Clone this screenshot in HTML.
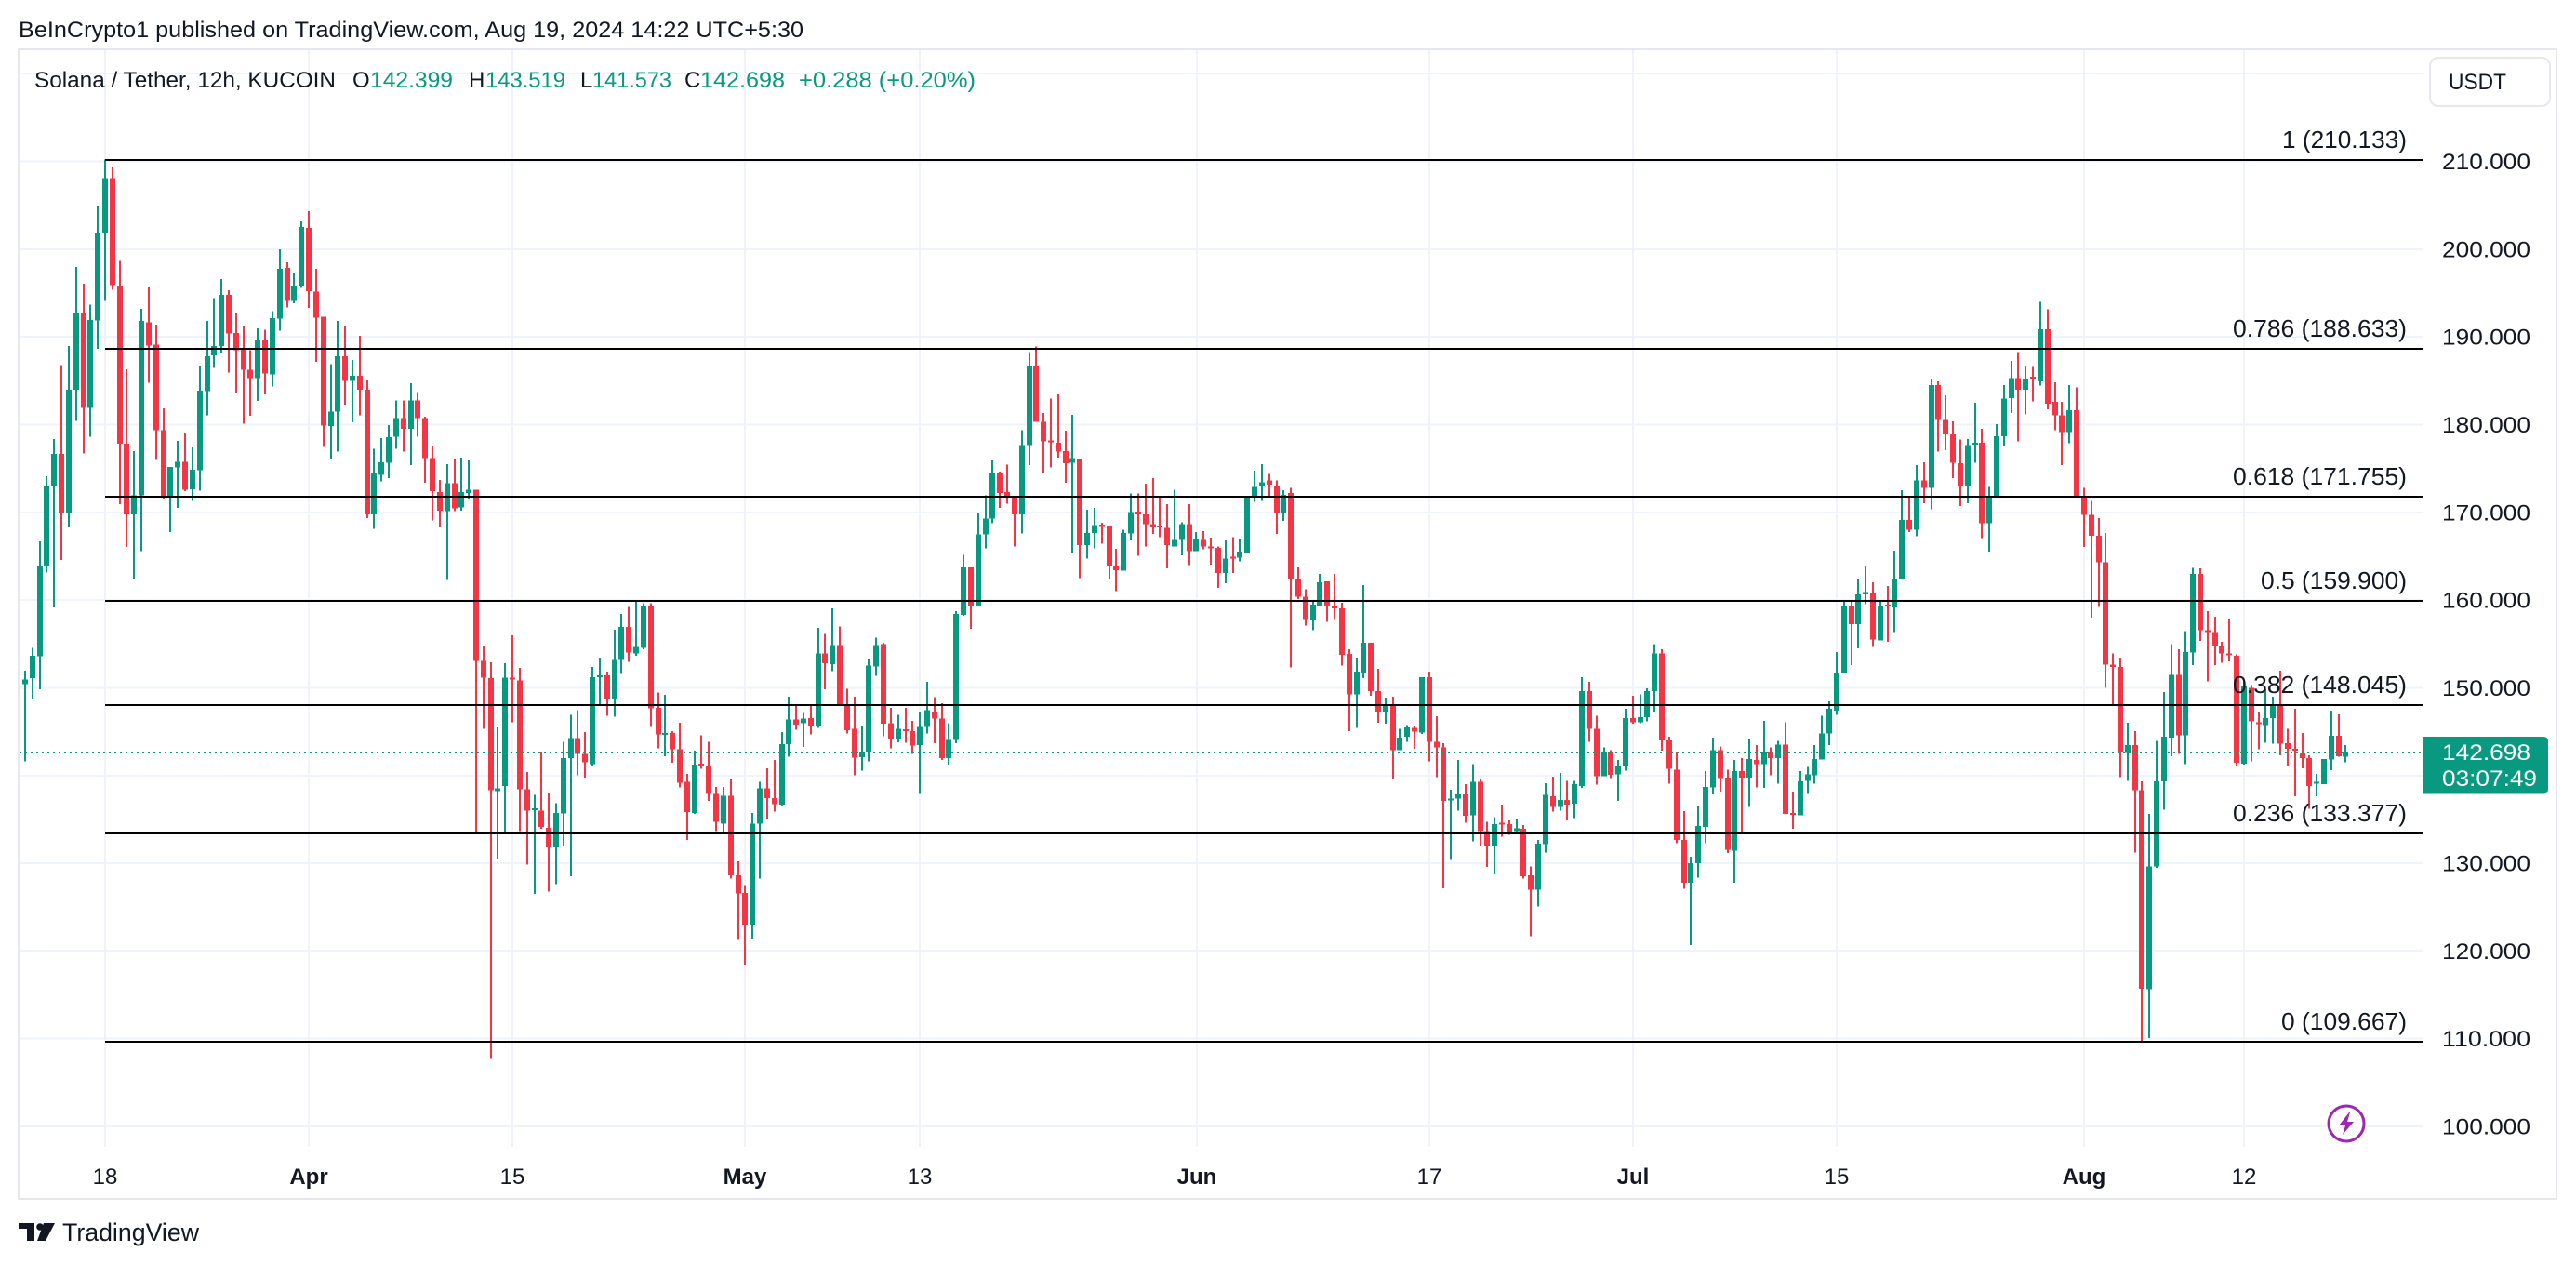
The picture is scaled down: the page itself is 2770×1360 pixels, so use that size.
<!DOCTYPE html>
<html><head><meta charset="utf-8">
<style>
html,body{margin:0;padding:0;background:#fff;}
svg{display:block}
text{font-family:"Liberation Sans",Arial,sans-serif;}
</style></head>
<body>
<svg id="c" width="2770" height="1360" viewBox="0 0 2770 1360" xmlns="http://www.w3.org/2000/svg">
<defs><clipPath id="plot"><rect x="21" y="54" width="2585" height="1179"/></clipPath></defs>
<rect width="2770" height="1360" fill="#fff"/>
<!-- grid -->
<g stroke="#f0f3fa" stroke-width="2" shape-rendering="crispEdges">
<line x1="21" x2="2606" y1="79" y2="79"/>
<line x1="21" x2="2606" y1="173.5" y2="173.5"/>
<line x1="21" x2="2606" y1="268" y2="268"/>
<line x1="21" x2="2606" y1="362" y2="362"/>
<line x1="21" x2="2606" y1="456.5" y2="456.5"/>
<line x1="21" x2="2606" y1="551" y2="551"/>
<line x1="21" x2="2606" y1="645" y2="645"/>
<line x1="21" x2="2606" y1="739.5" y2="739.5"/>
<line x1="21" x2="2606" y1="834" y2="834"/>
<line x1="21" x2="2606" y1="928" y2="928"/>
<line x1="21" x2="2606" y1="1022" y2="1022"/>
<line x1="21" x2="2606" y1="1116.5" y2="1116.5"/>
<line x1="21" x2="2606" y1="1211" y2="1211"/>
<line x1="113" x2="113" y1="54" y2="1233"/>
<line x1="332" x2="332" y1="54" y2="1233"/>
<line x1="551" x2="551" y1="54" y2="1233"/>
<line x1="801" x2="801" y1="54" y2="1233"/>
<line x1="989" x2="989" y1="54" y2="1233"/>
<line x1="1287" x2="1287" y1="54" y2="1233"/>
<line x1="1537" x2="1537" y1="54" y2="1233"/>
<line x1="1756" x2="1756" y1="54" y2="1233"/>
<line x1="1975" x2="1975" y1="54" y2="1233"/>
<line x1="2241" x2="2241" y1="54" y2="1233"/>
<line x1="2413" x2="2413" y1="54" y2="1233"/>
</g>
<!-- frame -->
<rect x="20" y="53" width="2729" height="1236" fill="none" stroke="#e6e8ee" stroke-width="2"/>
<!-- candles -->
<g id="cd" clip-path="url(#plot)" shape-rendering="crispEdges"></g>
<!-- fib lines -->
<g stroke="#000" stroke-width="2" shape-rendering="crispEdges">
<line x1="113" x2="2606" y1="172" y2="172"/>
<line x1="113" x2="2606" y1="375" y2="375"/>
<line x1="113" x2="2606" y1="534" y2="534"/>
<line x1="113" x2="2606" y1="646" y2="646"/>
<line x1="113" x2="2606" y1="758" y2="758"/>
<line x1="113" x2="2606" y1="896" y2="896"/>
<line x1="113" x2="2606" y1="1120" y2="1120"/>
</g>
<!-- current price dotted line -->
<line x1="21" x2="2606" y1="809" y2="809" stroke="#089981" stroke-width="2" stroke-dasharray="2,4"/>
<!-- fib labels -->
<g font-size="26" fill="#131722" text-anchor="end">
<text x="2588" y="159" textLength="134" lengthAdjust="spacingAndGlyphs">1 (210.133)</text>
<text x="2588" y="362" textLength="187" lengthAdjust="spacingAndGlyphs">0.786 (188.633)</text>
<text x="2588" y="521" textLength="187" lengthAdjust="spacingAndGlyphs">0.618 (171.755)</text>
<text x="2588" y="633" textLength="157" lengthAdjust="spacingAndGlyphs">0.5 (159.900)</text>
<text x="2588" y="745" textLength="187" lengthAdjust="spacingAndGlyphs">0.382 (148.045)</text>
<text x="2588" y="883" textLength="187" lengthAdjust="spacingAndGlyphs">0.236 (133.377)</text>
<text x="2588" y="1107" textLength="135" lengthAdjust="spacingAndGlyphs">0 (109.667)</text>
</g>
<!-- price axis -->
<g font-size="24" fill="#131722">
<text x="2626" y="182" textLength="95" lengthAdjust="spacingAndGlyphs">210.000</text>
<text x="2626" y="276.5" textLength="95" lengthAdjust="spacingAndGlyphs">200.000</text>
<text x="2626" y="370.5" textLength="95" lengthAdjust="spacingAndGlyphs">190.000</text>
<text x="2626" y="465" textLength="95" lengthAdjust="spacingAndGlyphs">180.000</text>
<text x="2626" y="559.5" textLength="95" lengthAdjust="spacingAndGlyphs">170.000</text>
<text x="2626" y="653.5" textLength="95" lengthAdjust="spacingAndGlyphs">160.000</text>
<text x="2626" y="748" textLength="95" lengthAdjust="spacingAndGlyphs">150.000</text>
<text x="2626" y="936.5" textLength="95" lengthAdjust="spacingAndGlyphs">130.000</text>
<text x="2626" y="1031" textLength="95" lengthAdjust="spacingAndGlyphs">120.000</text>
<text x="2626" y="1125" textLength="95" lengthAdjust="spacingAndGlyphs">110.000</text>
<text x="2626" y="1219.5" textLength="95" lengthAdjust="spacingAndGlyphs">100.000</text>
</g>
<!-- USDT box -->
<rect x="2613" y="62" width="129" height="52" rx="9" fill="#fff" stroke="#e6e8ee" stroke-width="2"/>
<text x="2633" y="96" font-size="24" fill="#131722" textLength="62" lengthAdjust="spacingAndGlyphs">USDT</text>
<!-- current price label -->
<path d="M2606 792 H2735 Q2740 792 2740 797 V848.5 Q2740 853.5 2735 853.5 H2606 Z" fill="#089981"/>
<text x="2626" y="817" font-size="24" fill="#fff" textLength="95" lengthAdjust="spacingAndGlyphs">142.698</text>
<text x="2626" y="845" font-size="24" fill="#fff" textLength="102" lengthAdjust="spacingAndGlyphs">03:07:49</text>
<!-- time axis -->
<g font-size="24" fill="#131722" text-anchor="middle">
<text x="113" y="1273">18</text>
<text x="332" y="1273" font-weight="bold">Apr</text>
<text x="551" y="1273">15</text>
<text x="801" y="1273" font-weight="bold">May</text>
<text x="989" y="1273">13</text>
<text x="1287" y="1273" font-weight="bold">Jun</text>
<text x="1537" y="1273">17</text>
<text x="1756" y="1273" font-weight="bold">Jul</text>
<text x="1975" y="1273">15</text>
<text x="2241" y="1273" font-weight="bold">Aug</text>
<text x="2413" y="1273">12</text>
</g>
<!-- lightning icon -->
<circle cx="2523" cy="1208" r="19" fill="#fff" stroke="#9c27b0" stroke-width="3"/>
<path d="M2526 1196 L2515 1210 L2522 1210 L2519 1220 L2531 1206 L2524 1206 L2527 1196 Z" fill="#9c27b0"/>
<!-- header -->
<text x="20" y="40" font-size="24" fill="#131722" textLength="844" lengthAdjust="spacingAndGlyphs">BeInCrypto1 published on TradingView.com, Aug 19, 2024 14:22 UTC+5:30</text>
<g font-size="24">
<text x="37" y="94" fill="#131722" textLength="324" lengthAdjust="spacingAndGlyphs">Solana / Tether, 12h, KUCOIN</text>
<text x="379" y="94" fill="#131722">O</text>
<text x="398" y="94" fill="#089981" textLength="89" lengthAdjust="spacingAndGlyphs">142.399</text>
<text x="504" y="94" fill="#131722">H</text>
<text x="522" y="94" fill="#089981" textLength="86" lengthAdjust="spacingAndGlyphs">143.519</text>
<text x="624" y="94" fill="#131722">L</text>
<text x="637" y="94" fill="#089981" textLength="85" lengthAdjust="spacingAndGlyphs">141.573</text>
<text x="736" y="94" fill="#131722">C</text>
<text x="753" y="94" fill="#089981" textLength="91" lengthAdjust="spacingAndGlyphs">142.698</text>
<text x="859" y="94" fill="#089981" textLength="190" lengthAdjust="spacingAndGlyphs">+0.288 (+0.20%)</text>
</g>
<!-- TradingView logo -->
<g fill="#131722">
<rect x="20" y="1315" width="17" height="6"/>
<rect x="29" y="1315" width="8" height="19"/>
<circle cx="43" cy="1319" r="3.8"/>
<path d="M47 1315 H59 L49 1334 H40 Z"/>
<text x="67" y="1334" font-size="27" textLength="147" lengthAdjust="spacingAndGlyphs">TradingView</text>
</g>
</svg>
<script>
var D=[
[1,918,920,940,940],[1,895,910,918,1048],[1,857,870,908,943],[1,677,720,871,927],[1,568,583,720,730],[1,505,530,584,789],
[0,380,530,629,709],[1,348,422,629,654],[1,215,293,422,474],[0,243,293,452,529],[1,278,304,452,501],[1,113,157,305,353],
[1,34,65,157,272],[0,47,65,245,253],[0,205,246,513,615],[0,387,513,632,687],[1,525,600,632,741],[1,285,306,600,694],
[0,249,308,347,410],[0,312,346,490,540],[0,453,490,603,605],[1,552,552,602,662],[1,508,543,553,621],[0,495,543,590,593],
[1,519,557,590,609],[1,381,423,557,592],[1,306,365,424,465],[1,267,348,364,385],[1,235,262,348,360],[0,254,262,327,393],
[0,293,326,355,427],[0,315,352,388,479],[0,355,388,402,466],[1,318,337,402,441],[0,321,337,394,430],[1,289,301,396,416],
[1,185,218,302,322],[0,207,216,272,283],[1,224,246,272,276],[1,138,147,247,250],[0,121,149,256,284],[0,218,256,300,375],
[0,299,299,482,518],[1,379,459,483,538],[1,306,365,459,526],[0,315,365,407,447],[1,372,398,407,477],[0,331,398,422,465],
[0,406,422,632,638],[1,521,563,632,656],[1,503,544,565,576],[1,481,502,545,571],[1,440,470,501,521],[0,440,470,488,526],
[1,411,440,488,549],[0,426,440,470,501],[0,467,470,537,579],[0,516,537,593,642],[0,574,594,626,654],[1,547,579,626,742],
[0,539,579,622,626],[1,536,594,620,626],[1,541,590,596,607],[0,590,590,879,1167],[0,853,879,907,993],[0,881,908,1097,1548],
[1,991,1094,1098,1213],
[1,883,907,1090,1170],[0,836,907,909,982],[0,891,912,1095,1166],[0,1066,1095,1131,1222],[1,1105,1127,1129,1272],
[0,1033,1131,1159,1162],[0,1102,1160,1193,1268],[1,1119,1135,1193,1255],[1,1015,1043,1136,1191],[1,970,1009,1043,1242],
[0,962,1009,1036,1072],[0,999,1036,1050,1076],[1,889,906,1053,1057],[1,873,903,906,952],[0,898,903,943,971],
[1,826,877,943,973],[1,800,822,877,901],[0,788,822,865,880],[1,776,855,866,870],[1,782,787,857,859],
[0,782,787,959,990],[0,932,958,1003,1026],[1,936,1000,1002,1040],[0,997,1000,1028,1051],[0,983,1028,1084,1092],
[0,1069,1083,1134,1181],[1,1030,1054,1135,1137],[0,1004,1052,1055,1061],[0,1015,1055,1103,1115],[0,1091,1103,1150,1166],
[1,1091,1106,1153,1169],[0,1077,1106,1240,1246],[0,1217,1240,1271,1349],[0,1258,1270,1324,1391],[1,1135,1153,1324,1347],
[1,1083,1094,1153,1246],[0,1060,1094,1110,1145],[0,1046,1110,1120,1133],[1,999,1019,1121,1123],[1,939,978,1019,1040],
[0,952,978,986,995],[1,967,976,984,1024],[0,955,975,988,1003],[1,823,866,988,992],[0,833,866,883,927],
[1,790,852,884,896],[0,821,852,954,955],[0,926,954,996,1001],[0,939,993,1042,1072],[1,988,1033,1041,1064],
[1,876,887,1033,1048],[1,840,852,888,904],[0,848,851,985,1006],[0,958,984,1010,1026],[1,970,993,1010,1016],
[0,958,994,997,1017],[0,980,997,1022,1036],[1,964,990,1021,1103],[1,914,962,990,1001],[0,940,964,976,1018],
[0,950,976,1043,1046],[1,984,1012,1043,1054],[1,795,800,1012,1018],[1,700,721,801,803],[0,721,721,787,825],
[1,630,666,787,787],[1,600,639,666,689],
[1,541,563,639,647],[0,560,563,596,621],[0,548,594,602,614],[0,602,602,632,686],[1,490,515,632,664],
[1,358,381,515,549],[0,349,381,476,476],[0,461,476,509,562],[0,437,507,509,553],[0,430,511,526,536],
[0,491,525,546,579],[1,464,537,545,698],[0,538,538,684,739],[1,624,663,684,706],[1,621,650,663,689],
[0,646,649,653,681],[0,652,652,719,742],[0,690,718,726,761],[1,658,663,727,727],[1,597,628,664,676],
[0,597,627,632,702],[0,580,632,648,686],[0,571,648,654,665],[0,602,651,653,670],[0,615,655,684,723],
[1,590,675,686,686],[1,645,648,675,701],[0,615,648,694,717],[1,662,674,694,694],[0,660,675,686,691],
[0,671,686,688,717],[0,686,688,731,756],[1,676,706,731,748],[0,670,703,705,731],[1,674,695,705,711],
[1,602,602,697,697],[1,558,586,603,611],[1,547,578,583,609],[0,564,575,582,604],[0,575,583,629,665],
[1,591,599,629,643],[0,587,596,741,890],[0,721,741,771,775],[0,758,771,810,819],[1,779,784,811,827],
[1,732,746,787,787],[0,745,745,787,813],[0,732,787,790,810],[0,781,790,869,887],[0,859,867,935,997],
[1,873,898,935,992],[1,751,848,900,908],[0,848,848,930,938],[0,892,930,966,983],[1,941,953,965,985],
[0,939,953,1029,1079],[1,993,1008,1029,1029],[1,987,991,1007,1015],[0,988,992,998,1027],[1,906,906,1000,1002],
[0,898,906,1015,1048],[0,972,1015,1025,1075],[0,1018,1025,1115,1262],[1,1096,1111,1114,1214],[1,1046,1104,1111,1131],
[0,1087,1104,1140,1152],
[1,1053,1083,1139,1183],[0,1078,1083,1166,1192],[0,1150,1166,1191,1226],[1,1142,1154,1191,1239],[0,1121,1152,1154,1175],
[0,1148,1154,1167,1172],[1,1146,1161,1166,1168],[0,1156,1162,1242,1246],[0,1225,1240,1265,1343],[1,1181,1187,1265,1293],
[1,1085,1105,1188,1202],[0,1074,1107,1125,1133],[1,1068,1113,1125,1131],[0,1081,1113,1121,1148],[1,1081,1087,1120,1144],
[1,906,930,1090,1093],[0,914,930,993,1015],[0,971,993,1073,1087],[1,1025,1033,1073,1073],[0,1029,1033,1071,1076],
[1,1046,1055,1070,1115],[1,960,975,1056,1064],[0,938,975,982,985],[1,935,974,982,984],[1,925,930,974,981],
[1,851,866,930,965],[0,859,866,1013,1030],[0,1007,1013,1061,1086],[0,1033,1062,1181,1186],[0,1132,1181,1253,1263],
[1,1209,1220,1253,1358],[1,1124,1157,1220,1244],[1,1065,1091,1159,1186],[1,1008,1029,1092,1104],[0,1023,1029,1076,1100],
[0,1062,1076,1197,1203],[1,1046,1065,1199,1253],[0,1043,1065,1076,1167],[1,1010,1044,1076,1125],[0,1021,1046,1053,1092],
[1,980,1032,1053,1093],[0,1025,1033,1043,1072],[1,1014,1020,1043,1086],[0,982,1020,1137,1137],[0,1101,1135,1137,1162],
[1,1065,1082,1139,1139],[1,1058,1070,1081,1103],[1,1021,1044,1072,1086],[1,971,1001,1045,1045],[1,947,960,1001,1021],
[1,864,900,963,970],[1,779,787,900,900],[0,777,787,817,886],[1,740,767,817,858],[1,720,763,767,783],
[0,746,765,843,855],[1,777,786,844,844],[0,753,784,786,847],[1,693,740,789,832],[1,591,641,740,742],
[0,602,641,658,662],[1,549,575,658,669],[0,544,575,587,613],[1,403,414,587,623],[0,408,414,473,526],
[0,431,473,497,524],
[0,475,497,545,571],[0,506,546,585,618],[1,505,515,585,613],[1,444,511,513,545],[0,488,511,647,672],
[1,586,602,647,695],[1,480,500,603,603],[1,414,437,500,516],[1,373,402,436,461],[0,358,402,422,509],
[1,381,404,422,463],[0,383,400,404,441],[1,274,320,408,415],[0,286,320,445,455],[0,409,442,465,490],
[0,442,465,493,549],[1,414,456,493,512],[0,418,456,604,604],[0,587,604,633,687],[0,609,633,668,806],
[0,638,668,713,788],[0,663,713,885,924],[0,866,885,889,952],[0,873,889,1033,1075],[1,983,1021,1034,1081],
[0,997,1021,1097,1202],[0,1082,1097,1432,1522],[1,1137,1225,1432,1515],[1,1014,1082,1225,1228],[1,931,1007,1082,1130],
[1,851,902,1008,1040],[0,859,902,1004,1036],[1,829,864,1004,1053],[1,722,732,865,886],[0,723,732,827,845],
[0,795,827,832,913],[0,804,832,854,886],[0,847,854,866,882],[0,808,866,867,880],[0,868,870,1051,1056],
[1,913,921,1052,1054],[0,920,924,981,1048],[0,965,982,985,1028],[1,927,975,987,1017],[1,939,953,975,1018],
[0,895,953,1018,1038],[0,993,1018,1027,1055],[0,960,1027,1030,1107],[0,1000,1035,1043,1060],[0,1038,1043,1090,1128],
[1,1069,1083,1085,1107],[1,1044,1044,1087,1087],[1,963,1005,1045,1063],[0,969,1005,1040,1040],[1,1021,1032,1040,1050]
];
function Y(z){return 150+z/1.568;}
var s='';
for(var k=0;k<D.length;k++){
  var i=k-12,d=D[k];
  var xc=Math.round(113+i*7.823);
  var col=d[0]?'#089981':'#f23645';
  var wt=Y(d[1]),bt=Y(d[2]),bb=Y(d[3]),wb=Y(d[4]);
  var bh=Math.max(2,bb-bt);
  s+='<rect x="'+(xc-1)+'" y="'+wt.toFixed(1)+'" width="2" height="'+Math.max(2,wb-wt).toFixed(1)+'" fill="'+col+'"/>';
  s+='<rect x="'+(xc-3)+'" y="'+bt.toFixed(1)+'" width="6" height="'+bh.toFixed(1)+'" fill="'+col+'"/>';
}
document.getElementById('cd').innerHTML=s;
</script>
</body></html>
